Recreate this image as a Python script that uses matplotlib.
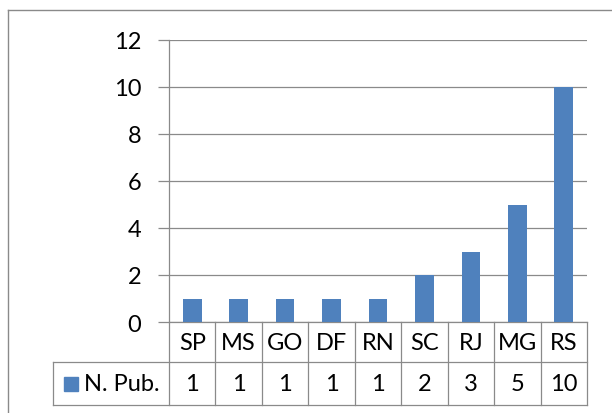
import matplotlib
matplotlib.use('Agg')
import matplotlib.pyplot as plt
from matplotlib.lines import Line2D

# data
categories = ['SP', 'MS', 'GO', 'DF', 'RN', 'SC', 'RJ', 'MG', 'RS']
n_pub = [1, 1, 1, 1, 1, 2, 3, 5, 10]
series_name = 'N. Pub.'

BLUE = '#4F81BD'
GRID = '#8A8A8A'
W, H = 612, 414
FS = 17

plt.rcParams['font.family'] = ['Lato', 'DejaVu Sans']


def main():
    fig = plt.figure(figsize=(W / 100, H / 100), dpi=100)
    fig.patch.set_facecolor('white')

    # outer chart frame (cut off at right and bottom)
    fig.add_artist(Line2D([7.5 / W, 7.5 / W], [1 - 11 / H, 0], color=GRID,
                          lw=1.0, transform=fig.transFigure))
    fig.add_artist(Line2D([7.5 / W, 1], [1 - 11 / H, 1 - 11 / H], color=GRID,
                          lw=1.0, transform=fig.transFigure))

    ax = fig.add_axes([169 / W, 1 - 323 / H, 418 / W, 282 / H])
    x = list(range(len(categories)))
    ax.bar(x, n_pub, width=0.4, color=BLUE, zorder=3)

    ax.set_xlim(-0.5, len(categories) - 0.5)
    ax.set_ylim(0, 12)
    ax.set_yticks(range(0, 13, 2))
    ax.set_xticks([])
    ax.yaxis.grid(True, color=GRID, lw=0.9)
    ax.set_axisbelow(True)
    for s in ['top', 'right', 'bottom']:
        ax.spines[s].set_visible(False)
    ax.spines['left'].set_color(GRID)
    ax.spines['left'].set_linewidth(0.9)
    ax.tick_params(axis='y', length=8, width=0.9, color=GRID, pad=12,
                   labelsize=FS)

    # data table below the axis
    trans = ax.get_xaxis_transform()
    r1 = -40 / 282
    r2 = -83 / 282
    xl = -0.5 - 116 / (418 / len(categories))
    xr = len(categories) - 0.5
    lkw = dict(color=GRID, lw=0.9, transform=trans, clip_on=False)
    ax.plot([-0.5, xr], [0, 0], **lkw)
    ax.plot([xl, xr], [r1, r1], **lkw)
    ax.plot([xl, xr], [r2, r2], **lkw)
    ax.plot([xl, xl], [r1, r2], **lkw)
    for i in range(len(categories) + 1):
        ax.plot([i - 0.5, i - 0.5], [0, r2], **lkw)

    for i, (c, v) in enumerate(zip(categories, n_pub)):
        ax.text(i, r1 / 2, c, transform=trans, ha='center', va='center',
                fontsize=FS)
        ax.text(i, (r1 + r2) / 2, str(v), transform=trans, ha='center',
                va='center', fontsize=FS)

    ym = (r1 + r2) / 2
    ax.plot([xl + 0.38], [ym], marker='s', ms=10, color=BLUE, transform=trans,
            clip_on=False)
    ax.text(xl + 0.66, ym, series_name, transform=trans, ha='left',
            va='center', fontsize=FS)

    fig.savefig('out.png', dpi=100)


if __name__ == '__main__':
    main()
